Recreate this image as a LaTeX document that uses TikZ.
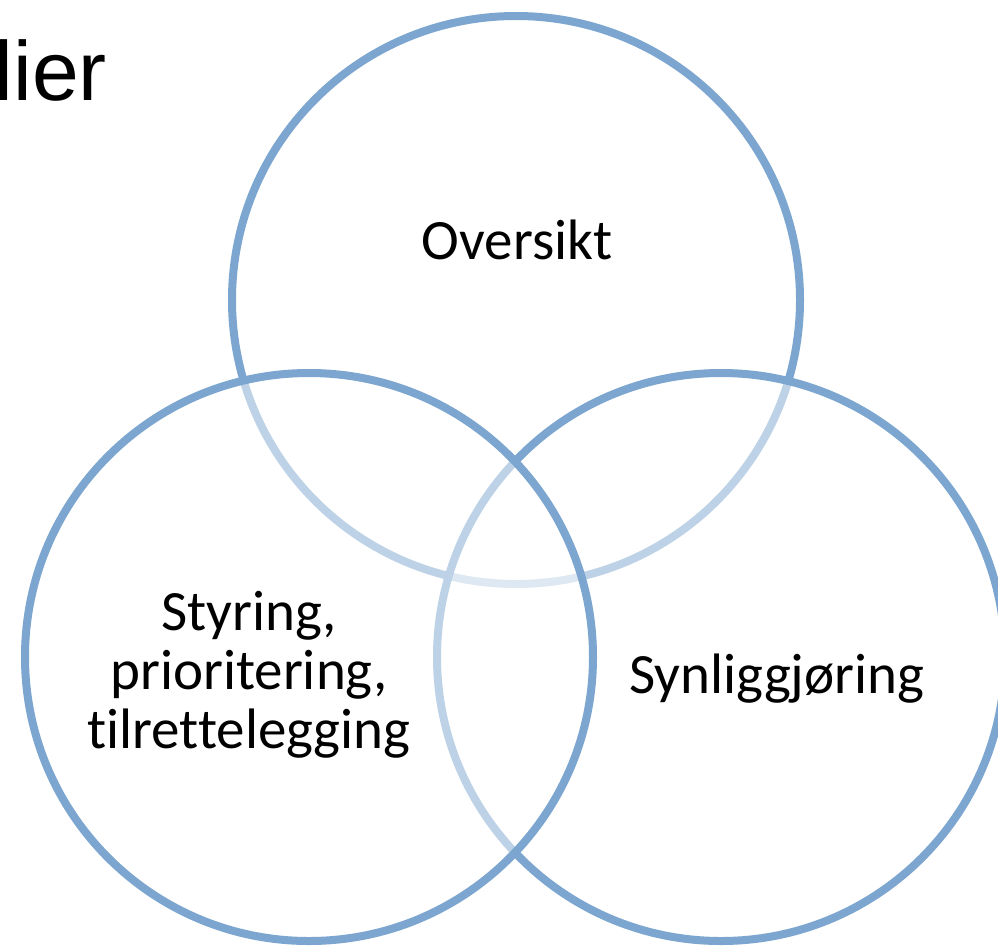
\documentclass[tikz,border=0pt]{standalone}
\usepackage{fontspec}
\setmainfont[Ligatures={NoCommon}]{Carlito}
\newfontfamily\arialfont{Liberation Sans}
\definecolor{vennblue}{HTML}{7CA5CF}
\begin{document}
\begin{tikzpicture}[x=1pt,y=-1pt,
  vennc/.style={circle, draw=vennblue, line width=8pt, fill=white, fill opacity=0.5, draw opacity=1, minimum size=568pt, inner sep=0pt, outer sep=0pt},
  lbl/.style={font=\fontsize{57}{59}\selectfont, align=center, text=black, inner sep=0pt, anchor=base}]
\useasboundingbox (0,0) rectangle (998,945);
\fill[white] (0,0) rectangle (998,945);
\node[vennc] (top) at (516,300) {};
\node[vennc] (right) at (721,657) {};
\node[vennc] (left) at (309,657) {};
\node[lbl] (toplbl) at (517,259) {Oversikt};
\node[lbl] (rightlbl) at (777,693) {Synliggjøring};
\node[lbl] (leftlbl) at (249,748) {Styring,\\prioritering,\\tilrettelegging};
\node[anchor=base east, inner sep=0pt, font=\arialfont\fontsize{84}{84}\selectfont] (title) at (107,100) {lier};
\end{tikzpicture}
\end{document}
